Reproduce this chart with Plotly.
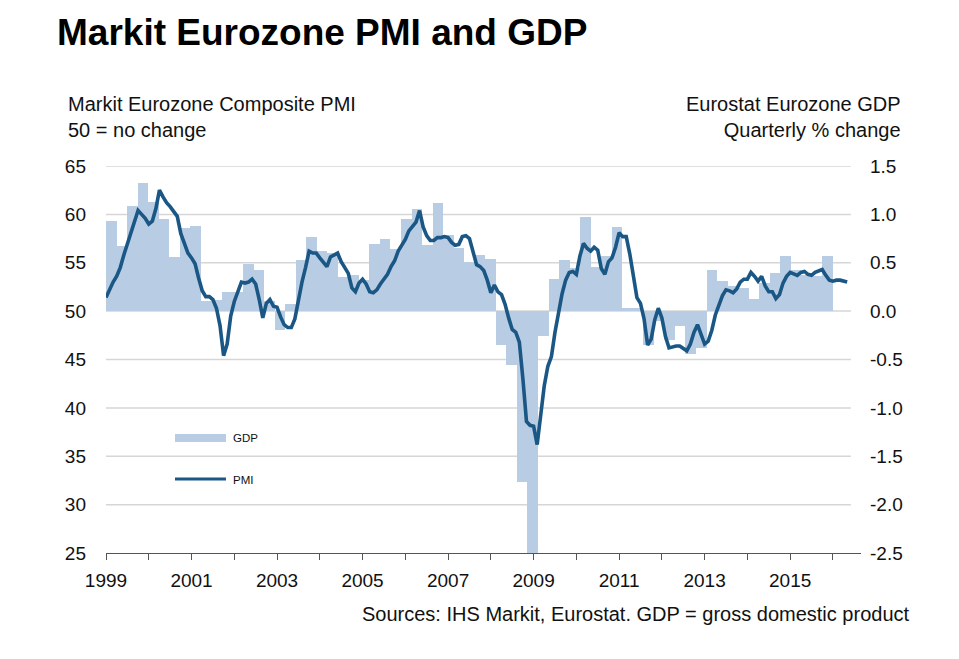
import plotly.graph_objects as go

# ---------------- data ----------------
# Markit Eurozone Composite PMI, monthly, Jan 1999 - May 2016
pmi_1999 = [51.4, 52.3, 53.0, 53.6, 54.5, 55.8, 56.9, 58.1, 59.2, 60.4, 60.0, 59.6]
pmi_2000 = [59.0, 59.3, 60.6, 62.5, 61.8, 61.2, 60.8, 60.3, 59.8, 58.0, 56.9, 56.0]
pmi_2001 = [55.5, 54.9, 53.4, 52.1, 51.5, 51.5, 51.2, 50.3, 48.5, 45.4, 46.6, 49.5]
pmi_2002 = [51.0, 52.0, 53.0, 52.9, 53.0, 53.3, 52.8, 51.2, 49.3, 50.8, 51.2, 50.5]
pmi_2003 = [50.4, 49.4, 48.6, 48.3, 48.3, 49.2, 51.3, 53.0, 54.5, 56.2, 56.0, 56.0]
pmi_2004 = [55.5, 55.0, 54.6, 55.6, 55.8, 56.0, 55.1, 54.5, 53.9, 52.4, 52.0, 52.9]
pmi_2005 = [53.3, 52.8, 52.0, 51.9, 52.2, 52.8, 53.3, 53.8, 54.6, 55.2, 56.2, 56.8]
pmi_2006 = [57.4, 58.3, 58.8, 59.2, 60.4, 58.7, 57.8, 57.3, 57.3, 57.6, 57.6, 57.7]
pmi_2007 = [57.6, 57.1, 56.8, 56.9, 57.7, 57.8, 57.5, 56.0, 54.8, 54.6, 54.2, 53.2]
pmi_2008 = [51.9, 52.7, 52.0, 51.7, 50.7, 49.3, 48.1, 47.8, 46.8, 43.0, 38.6, 38.2]
pmi_2009 = [38.1, 36.2, 39.0, 42.3, 44.3, 45.3, 47.8, 50.0, 51.8, 53.2, 54.0, 54.1]
pmi_2010 = [53.8, 55.7, 57.0, 56.5, 56.2, 56.6, 56.3, 54.4, 53.8, 55.1, 55.5, 56.6]
pmi_2011 = [58.1, 57.7, 57.7, 55.9, 53.6, 51.4, 50.8, 49.2, 46.5, 47.1, 49.1, 50.3]
pmi_2012 = [49.3, 47.4, 46.2, 46.3, 46.4, 46.4, 46.2, 45.9, 46.6, 47.8, 48.6, 47.6]
pmi_2013 = [46.6, 46.9, 48.0, 49.6, 50.6, 51.6, 52.2, 52.1, 51.9, 52.3, 53.0, 53.3]
pmi_2014 = [53.3, 54.0, 53.6, 53.1, 53.6, 52.6, 52.0, 52.0, 51.3, 51.7, 52.9, 53.6]
pmi_2015 = [54.0, 53.8, 53.7, 54.0, 54.1, 53.8, 53.7, 54.0, 54.2, 54.3, 53.7, 53.2]
pmi_2016 = [53.1, 53.2, 53.2, 53.1, 53.0]

# Eurostat Eurozone GDP, quarterly % change, 1999 Q1 - 2016 Q1
gdp_1999 = [0.93, 0.67, 1.09, 1.32]
gdp_2000 = [1.13, 0.95, 0.56, 0.86]
gdp_2001 = [0.88, 0.10, 0.12, 0.20]
gdp_2002 = [0.20, 0.49, 0.43, 0.10]
gdp_2003 = [-0.20, 0.07, 0.53, 0.77]
gdp_2004 = [0.62, 0.60, 0.35, 0.37]
gdp_2005 = [0.32, 0.69, 0.75, 0.64]
gdp_2006 = [0.95, 1.06, 0.68, 1.12]
gdp_2007 = [0.79, 0.65, 0.51, 0.58]
gdp_2008 = [0.54, -0.35, -0.56, -1.77]
gdp_2009 = [-2.90, -0.26, 0.33, 0.53]
gdp_2010 = [0.45, 0.97, 0.46, 0.57]
gdp_2011 = [0.87, 0.03, 0.03, -0.35]
gdp_2012 = [-0.10, -0.30, -0.15, -0.44]
gdp_2013 = [-0.38, 0.42, 0.31, 0.26]
gdp_2014 = [0.24, 0.13, 0.29, 0.39]
gdp_2015 = [0.57, 0.43, 0.37, 0.36]
gdp_2016 = [0.57]

first_year = 1999
year_ticks = list(range(1999, 2017))
year_tick_labels = [str(y) if y % 2 == 1 else "" for y in year_ticks]
pmi_ticks = [25, 30, 35, 40, 45, 50, 55, 60, 65]
gdp_ticks = [-2.5, -2.0, -1.5, -1.0, -0.5, 0.0, 0.5, 1.0, 1.5]
gdp_tick_labels = ["-2.5", "-2.0", "-1.5", "-1.0", "-0.5", "0.0", "0.5", "1.0", "1.5"]

# ---------------- assemble ----------------
pmi_years = [pmi_1999, pmi_2000, pmi_2001, pmi_2002, pmi_2003, pmi_2004, pmi_2005,
             pmi_2006, pmi_2007, pmi_2008, pmi_2009, pmi_2010, pmi_2011, pmi_2012,
             pmi_2013, pmi_2014, pmi_2015, pmi_2016]
gdp_years = [gdp_1999, gdp_2000, gdp_2001, gdp_2002, gdp_2003, gdp_2004, gdp_2005,
             gdp_2006, gdp_2007, gdp_2008, gdp_2009, gdp_2010, gdp_2011, gdp_2012,
             gdp_2013, gdp_2014, gdp_2015, gdp_2016]

pmi_x, pmi_y = [], []
for i, vals in enumerate(pmi_years):
    for m, v in enumerate(vals):
        pmi_x.append(first_year + i + m / 12)
        pmi_y.append(v)

gdp_q, gdp_y = [], []
for i, vals in enumerate(gdp_years):
    for q, v in enumerate(vals):
        gdp_q.append(f"{first_year + i}Q{q + 1}")
        gdp_y.append(v)

FONT = "Liberation Sans, Arial, Helvetica, sans-serif"
BAR_C = "#b8cce4"
LINE_C = "#1a5784"
TXT = "#111111"

fig = go.Figure()
fig.add_trace(go.Bar(x=gdp_q, y=gdp_y, marker=dict(color=BAR_C, line=dict(width=0)),
                     xaxis="x", yaxis="y", name="GDP", hoverinfo="x+y"))
fig.add_trace(go.Scatter(x=pmi_x, y=pmi_y, mode="lines",
                         line=dict(color=LINE_C, width=3.6),
                         xaxis="x2", yaxis="y2", name="PMI"))

# horizontal gridlines
for v in pmi_ticks[1:]:
    fig.add_shape(type="line", xref="x2", yref="y2", x0=1999, x1=2016.42, y0=v, y1=v,
                  line=dict(color="#d6d6d6", width=1.5), layer="below")

# in-chart legend
fig.add_shape(type="rect", xref="paper", yref="paper", x0=0.0914, x1=0.1589,
              y0=0.2868, y1=0.3075, fillcolor=BAR_C, line=dict(width=0))
fig.add_shape(type="line", xref="paper", yref="paper", x0=0.0914, x1=0.1589,
              y0=0.1912, y1=0.1912, line=dict(color=LINE_C, width=3))
fig.add_annotation(xref="paper", yref="paper", x=0.1650, y=0.2972, text="GDP",
                   showarrow=False, xanchor="left", yanchor="middle",
                   font=dict(size=11.5, color=TXT))
fig.add_annotation(xref="paper", yref="paper", x=0.1650, y=0.1886, text="PMI",
                   showarrow=False, xanchor="left", yanchor="middle",
                   font=dict(size=11.5, color=TXT))

# titles and notes
fig.add_annotation(xref="paper", yref="paper", x=-0.0675, y=1.3437,
                   text="<b>Markit Eurozone PMI and GDP</b>", showarrow=False,
                   xanchor="left", yanchor="middle", font=dict(size=37, color="#000"))
fig.add_annotation(xref="paper", yref="paper", x=-0.0530, y=1.1266,
                   text="Markit Eurozone Composite PMI<br>50 = no change", showarrow=False,
                   xanchor="left", yanchor="middle", align="left",
                   font=dict(size=20, color=TXT))
fig.add_annotation(xref="paper", yref="paper", x=1.0557, y=1.1266,
                   text="Eurostat Eurozone GDP<br>Quarterly % change", showarrow=False,
                   xanchor="right", yanchor="middle", align="right",
                   font=dict(size=20, color=TXT))
fig.add_annotation(xref="paper", yref="paper", x=1.0676, y=-0.1576,
                   text="Sources: IHS Markit, Eurostat. GDP = gross domestic product",
                   showarrow=False, xanchor="right", yanchor="middle",
                   font=dict(size=20, color=TXT))

# page body has an 8px margin: figure is sized/placed so the plot lands where the reference has it
fig.update_layout(
    width=951, height=651, autosize=False,
    margin=dict(l=98, r=98, t=158, b=106),
    paper_bgcolor="white", plot_bgcolor="white",
    font=dict(family=FONT, color=TXT, size=19),
    showlegend=False, bargap=0,
    xaxis=dict(type="category", range=[-0.5, 71.16], showticklabels=False,
               showline=False, showgrid=False, zeroline=False, ticks=""),
    yaxis=dict(side="right", range=[-2.5, 1.5], tickvals=gdp_ticks, ticktext=gdp_tick_labels,
               showgrid=False, zeroline=False, showline=False, ticks="",
               ticklabelstandoff=8, tickfont=dict(size=19)),
    xaxis2=dict(overlaying="x", anchor="y2", side="bottom", range=[1999, 2016.657],
                tickvals=year_ticks, ticktext=year_tick_labels, ticks="outside",
                ticklen=6, tickwidth=1, tickcolor="#555", showline=True, linecolor="#555",
                linewidth=1.2, showgrid=False, zeroline=False, ticklabelstandoff=4,
                tickfont=dict(size=19)),
    yaxis2=dict(overlaying="y", anchor="x2", side="left", range=[25, 65], tickvals=pmi_ticks,
                showgrid=False, zeroline=False, showline=False, ticks="",
                ticklabelstandoff=19, tickfont=dict(size=19)),
)

fig.write_html("out.html")
